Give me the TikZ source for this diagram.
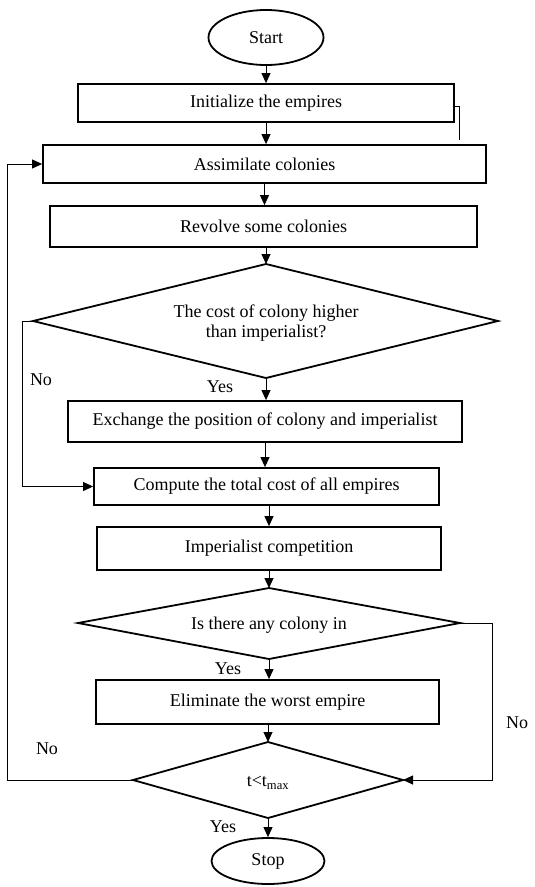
\documentclass[tikz,border=0pt]{standalone}
\usepackage{fontspec}
\setmainfont{Liberation Serif}
\usetikzlibrary{shapes.geometric,arrows.meta}
\begin{document}
\begin{tikzpicture}[x=1pt,y=-1pt,
  font=\fontsize{18}{20}\selectfont,
  box/.style={draw, line width=1.8pt, rectangle, inner sep=0pt},
  term/.style={draw, line width=1.8pt, ellipse, inner sep=0pt},
  decshape/.style={draw, line width=1.8pt, line join=miter},
  dtext/.style={align=center, inner sep=0pt},
  arr/.style={line width=0.9pt, -{Triangle[width=9pt,length=10pt]}},
  conn/.style={line width=0.9pt}]
\useasboundingbox (0,0) rectangle (535,887);

\node[term, minimum width=115pt, minimum height=55pt] (start) at (266,37.5) {Start};
\node[box, minimum width=376pt, minimum height=38pt] (init) at (266,103) {Initialize the empires};
\node[box, minimum width=443pt, minimum height=38pt] (assim) at (264.5,164) {Assimilate colonies};
\node[box, minimum width=427pt, minimum height=41pt] (rev) at (263.5,226.5) {Revolve some colonies};

% decision 1
\coordinate (d1n) at (266,264);
\coordinate (d1e) at (498,321);
\coordinate (d1s) at (266,378);
\coordinate (d1w) at (33,321);
\draw[decshape] (d1n) -- (d1e) -- (d1s) -- (d1w) -- cycle;
\node[dtext] (d1) at (266,323) {The cost of colony higher\\than imperialist?};

\node[box, minimum width=394pt, minimum height=41pt] (exch) at (265,421.5) {Exchange the position of colony and imperialist};
\node[box, minimum width=345pt, minimum height=37pt] (comp) at (266.5,486.5) {Compute the total cost of all empires};
\node[box, minimum width=344pt, minimum height=43pt] (imp) at (269,548.5) {Imperialist competition};

% decision 2
\coordinate (d2n) at (269,588);
\coordinate (d2e) at (460,623);
\coordinate (d2s) at (269,659);
\coordinate (d2w) at (78,623);
\draw[decshape] (d2n) -- (d2e) -- (d2s) -- (d2w) -- cycle;
\node[dtext] (d2) at (269,625) {Is there any colony in};

\node[box, minimum width=343pt, minimum height=44pt] (elim) at (267.5,702) {Eliminate the worst empire};

% decision 3
\coordinate (d3n) at (268,742);
\coordinate (d3e) at (403,780);
\coordinate (d3s) at (268,818);
\coordinate (d3w) at (133,780);
\draw[decshape] (d3n) -- (d3e) -- (d3s) -- (d3w) -- cycle;
\node[dtext] (d3) at (268,783) {t<t\textsubscript{max}};

\node[term, minimum width=113pt, minimum height=46pt] (stop) at (268,861) {Stop};

% labels
\node (no1) at (41,380) {No};
\node (yes1) at (220,387) {Yes};
\node (yes2) at (228,669) {Yes};
\node (no2) at (517,723) {No};
\node (no3) at (47,749) {No};
\node (yes3) at (223,827) {Yes};

% main flow
\draw[arr] (start.south) -- (start.south |- init.north);
\draw[arr] (init.south) -- (init.south |- assim.north);
\draw[arr] (assim.south) -- (assim.south |- rev.north);
\draw[arr] (rev.south -| d1n) -- (d1n);
\draw[arr] (d1s) -- (d1s |- exch.north);
\draw[arr] (exch.south) -- (exch.south |- comp.north);
\draw[arr] (comp.south -| imp.north) -- (imp.north);
\draw[arr] (imp.south -| d2n) -- (d2n);
\draw[arr] (d2s) -- (d2s |- elim.north);
\draw[arr] (elim.south -| d3n) -- (d3n);
\draw[arr] (d3s) -- (d3s |- stop.north);

% loops
\coordinate (l1) at (22,321);
\draw[arr] (d1w) -- (l1) |- (comp.west);
\coordinate (r1) at (492,623);
\draw[arr] (d2e) -- (r1) |- (d3e);
\coordinate (l2) at (7,780);
\draw[arr] (d3w) -- (l2) |- (assim.west);

% stray line
\coordinate (s1) at (459,106);
\coordinate (s2) at (459,140);
\draw[conn] (init.east |- s1) -- (s1) -- (s2);
\end{tikzpicture}
\end{document}
